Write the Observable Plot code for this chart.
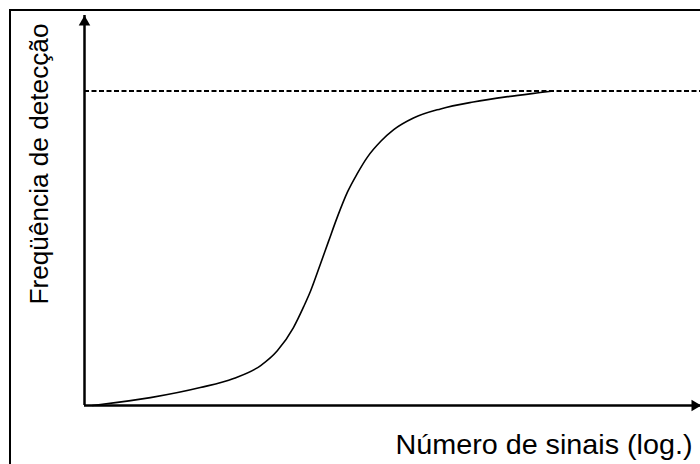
<!DOCTYPE html>
<html>
<head>
<meta charset="utf-8">
<script src="https://cdn.jsdelivr.net/npm/d3@7"></script>
<script src="https://cdn.jsdelivr.net/npm/@observablehq/plot@0.6"></script>
<style>
  html, body { margin: 0; padding: 0; background: #fff; }
  #wrap { position: relative; width: 700px; height: 464px; overflow: hidden; }
  #border { position: absolute; left: 9px; top: 9px; width: 720px; height: 480px;
            border-left: 2px solid #000; border-top: 2px solid #000; pointer-events: none; }
</style>
</head>
<body>
<div id="wrap"><div id="border"></div></div>
<script>
// Labels
const xLabel = "Número de sinais (log.)";
const yLabel = "Freqüência de detecção";

// Schematic sigmoid curve (x: log number of signals, arbitrary units; y: detection frequency, plateau = 1)
const logSignals    = [0.13, 0.26, 1.07, 1.88, 2.42, 2.86, 3.13, 3.39, 3.56, 3.67, 3.83, 3.96, 4.11, 4.27, 4.43, 4.59, 4.81, 5.02, 5.34, 5.78, 6.31, 6.87, 7.40, 7.61];
const detectionFreq = [0.0, 0.003, 0.025, 0.057, 0.086, 0.127, 0.174, 0.247, 0.315, 0.364, 0.450, 0.521, 0.602, 0.679, 0.738, 0.789, 0.840, 0.877, 0.914, 0.943, 0.965, 0.982, 0.995, 1.0];

// Plateau (maximum detection frequency)
const plateau = [1];

// Axis extents (arbitrary units)
const xDomain = [0, 10];
const yDomain = [0, 1.24];

const curve = logSignals.map((x, i) => ({x, y: detectionFreq[i]}));

// Arrowhead geometry: filled triangle 10px long
const headH = 10;
const headSize = (headH / 3) ** 2 * 3 * Math.sqrt(3);
const headR = Math.sqrt(headSize / Math.PI);

const FONT = "'Liberation Sans', Arial, sans-serif";

const svg = Plot.plot({
  width: 700,
  height: 464,
  marginLeft: 84,
  marginRight: 0,
  marginTop: 15,
  marginBottom: 59,
  x: {domain: xDomain, axis: null},
  y: {domain: yDomain, axis: null},
  style: {fontFamily: FONT, background: "white", color: "black", overflow: "visible"},
  marks: [
    // plateau dashed line
    Plot.ruleY(plateau, {stroke: "black", strokeWidth: 2, strokeDasharray: "5,2.5"}),
    // axes
    Plot.ruleY([yDomain[0]], {stroke: "black", strokeWidth: 2.5}),
    Plot.ruleX([xDomain[0]], {stroke: "black", strokeWidth: 2.5}),
    // arrowheads
    Plot.dot([{x: xDomain[0], y: yDomain[1]}], {x: "x", y: "y", symbol: "triangle", r: headR, fill: "black", stroke: null, dy: 2 * headH / 3}),
    Plot.dot([{x: xDomain[1], y: yDomain[0]}], {x: "x", y: "y", symbol: "triangle", r: headR, fill: "black", stroke: null, rotate: 90, dx: -2 * headH / 3 + 1}),
    // curve
    Plot.line(curve, {x: "x", y: "y", curve: "monotone-x", stroke: "black", strokeWidth: 1.6}),
    // axis titles
    Plot.text([xLabel], {frameAnchor: "bottom-left", text: d => d, textAnchor: "start", lineAnchor: "bottom", dx: 311, dy: 48, fontSize: 27.5, fill: "black"}),
    Plot.text([yLabel], {frameAnchor: "bottom-left", text: d => d, textAnchor: "start", lineAnchor: "bottom", rotate: -90, dx: -37, dy: -101, fontSize: 26.5, fill: "black"})
  ]
});

// Match the reference text extents
const texts = d3.select(svg).selectAll('g[aria-label="text"] text').nodes();
if (texts[0]) { texts[0].setAttribute("textLength", 297); texts[0].setAttribute("lengthAdjust", "spacingAndGlyphs"); }
if (texts[1]) { texts[1].setAttribute("textLength", 281); texts[1].setAttribute("lengthAdjust", "spacingAndGlyphs"); }

document.getElementById("wrap").prepend(svg);
</script>
</body>
</html>
